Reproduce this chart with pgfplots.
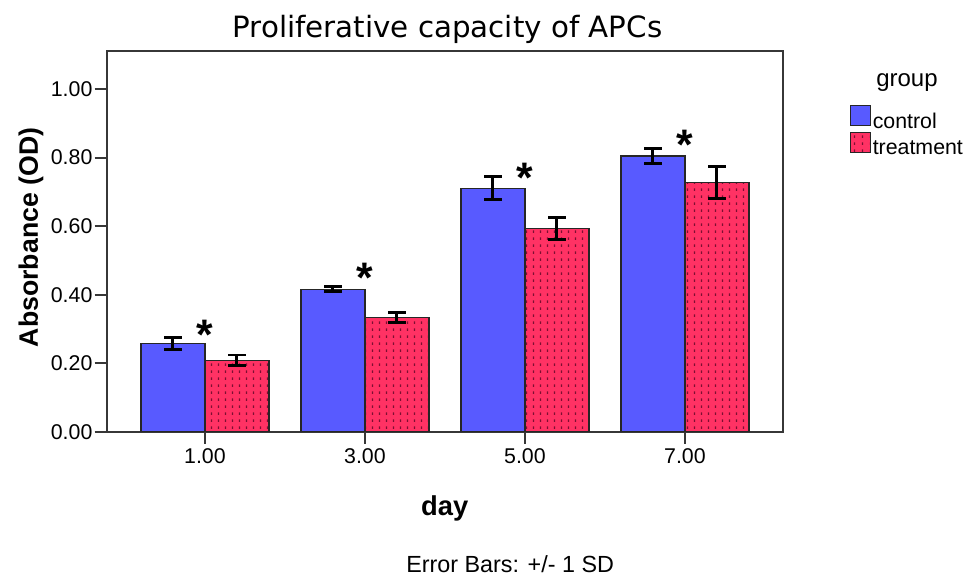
\documentclass[border=0pt]{standalone}
\usepackage{fontspec}
\setmainfont{Liberation Sans}
\newfontfamily\titlefont{DejaVu Sans}
\usepackage{pgfplots}
\pgfplotsset{compat=1.18}
\usepackage{pgfplotstable}
\usetikzlibrary{patterns.meta}

\pgfdeclarepattern{
  name=spssdots, type=uncolored,
  bottom left={\pgfpoint{0pt}{0pt}},
  top right={\pgfpoint{5.6pt}{5.2pt}},
  tile size={\pgfpoint{5.6pt}{5.2pt}},
  code={\pgfpathrectangle{\pgfpoint{2.3pt}{1.6pt}}{\pgfpoint{1pt}{1.9pt}}\pgfusepath{fill}}
}

\definecolor{ctrlblue}{RGB}{88,90,255}
\definecolor{trtred}{RGB}{255,50,100}
\definecolor{dotc}{RGB}{125,15,50}
\definecolor{axgray}{RGB}{55,55,55}

\pgfplotstableread{
x ctrl ctrlerr trt trterr
0 0.258 0.017 0.209 0.015
1 0.416 0.007 0.334 0.014
2 0.711 0.034 0.593 0.031
3 0.805 0.023 0.727 0.046
}\datatable

\begin{document}
\begin{tikzpicture}[x=1pt,y=1pt]
\useasboundingbox (0,0) rectangle (724.5,432);
\begin{axis}[
  at={(80pt,108.2pt)}, anchor=south west,
  scale only axis, width=507pt, height=285.75pt,
  clip=false,
  ybar=0pt, bar width=0.4,
  xmin=-0.614, xmax=3.611, ymin=0, ymax=1.112,
  xtick={0,1,2,3}, xticklabels={1.00,3.00,5.00,7.00},
  ytick={0,0.2,0.4,0.6,0.8,1.0},
  yticklabel style={/pgf/number format/fixed, /pgf/number format/fixed zerofill, /pgf/number format/precision=2, inner sep=1.5pt},
  /pgf/number format/assume math mode=true,
  ticklabel style={font=\fontsize{16}{18}\selectfont},
  tick pos=left, tick align=outside, major tick length=9pt,
  axis line style={axgray, line width=1.5pt},
  tick style={axgray, line width=1.5pt},
  every axis title shift=0pt,
  title={\titlefont\fontsize{22}{26}\selectfont Proliferative capacity of APCs},
  title style={at={(axis description cs:0.5041,1.036)}, anchor=base},
  xlabel={day},
  xlabel style={at={(axis description cs:0.5,-0.221)}, anchor=base, font=\bfseries\fontsize{20.5}{22}\selectfont},
  ylabel={Absorbance (OD)},
  ylabel style={at={(axis description cs:-0.1016,0.51)}, anchor=base, font=\bfseries\fontsize{20}{22}\selectfont},
  legend style={at={(axis description cs:1.0996,0.858)}, anchor=north west, draw=none, fill=none,
    font=\fontsize{16}{18}\selectfont, inner sep=0pt, row sep=0pt,
    nodes={inner sep=1pt}},
  legend cell align=left,
  legend image code/.code={\draw[#1] (0pt,-3pt) rectangle (15pt,12pt);},
]
\addplot[fill=ctrlblue, draw=black!85, line width=0.9pt,
  error bars/.cd, y dir=both, y explicit,
  error bar style={line width=2.2pt, black},
  error mark options={rotate=90, mark size=6.5pt, line width=2.2pt, black}]
  table[x=x, y=ctrl, y error=ctrlerr]{\datatable};
\addlegendentry{control}
\addplot[fill=trtred, draw=black!85, line width=0.9pt,
  postaction={pattern=spssdots, pattern color=dotc},
  error bars/.cd, y dir=both, y explicit,
  error bar style={line width=2.2pt, black},
  error mark options={rotate=90, mark size=6.5pt, line width=2.2pt, black}]
  table[x=x, y=trt, y error=trterr]{\datatable};
\addlegendentry{treatment}
\node[anchor=north, inner sep=0pt, font=\bfseries\fontsize{32}{32}\selectfont] at (axis cs:0,0.326) {*};
\node[anchor=north, inner sep=0pt, font=\bfseries\fontsize{32}{32}\selectfont] at (axis cs:1,0.492) {*};
\node[anchor=north, inner sep=0pt, font=\bfseries\fontsize{32}{32}\selectfont] at (axis cs:2,0.784) {*};
\node[anchor=north, inner sep=0pt, font=\bfseries\fontsize{32}{32}\selectfont] at (axis cs:3,0.880) {*};
\node[anchor=base, font=\fontsize{18}{20}\selectfont] at (axis description cs:1.1839,0.9055) {group};
\end{axis}
\node[anchor=base west, inner sep=0pt, font=\fontsize{17.5}{19}\selectfont] at (304.5,2.6) {Error Bars: +/- 1 SD};
\end{tikzpicture}
\end{document}
